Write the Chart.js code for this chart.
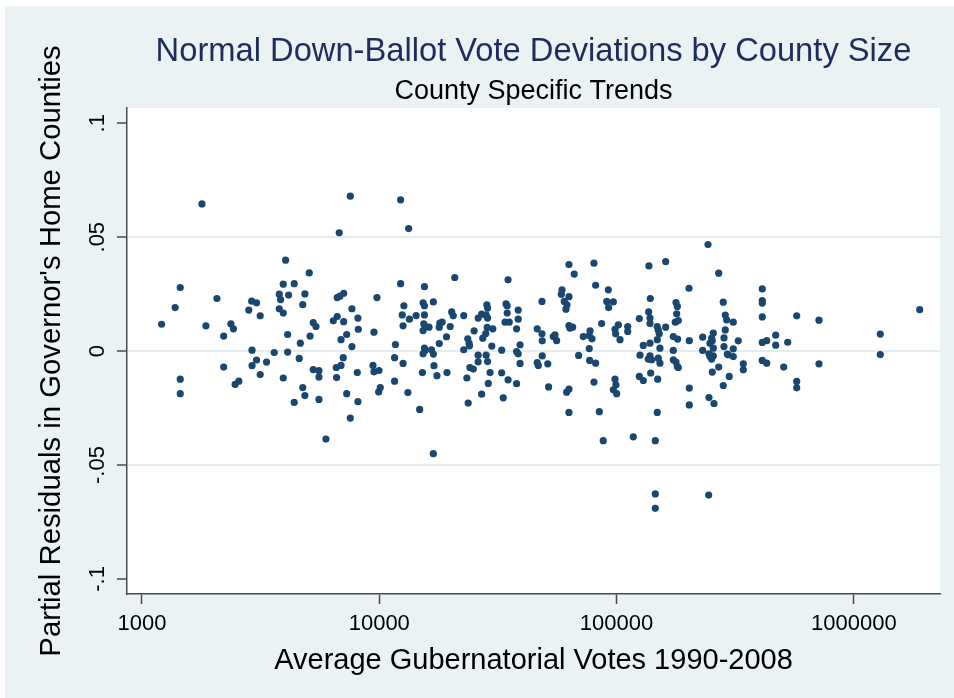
<!DOCTYPE html>
<html>
<head>
<meta charset="utf-8">
<script src="https://cdn.jsdelivr.net/npm/chart.js@4/dist/chart.umd.min.js"></script>
<style>
  html, body { margin: 0; padding: 0; background: #ffffff; }
  #wrap { width: 954px; height: 698px; }
</style>
</head>
<body>
<div id="wrap"><canvas id="myChart" width="954" height="698"></canvas></div>
<script>
// average gubernatorial votes per county (x) and partial residual (y)
const votes = [
  1790, 1450, 2070, 1380, 1210, 1860, 2370, 2430, 2210, 2900,
  3040, 2820, 3150, 2910, 3610, 3040, 3350, 2910, 2210, 3150,
  1450, 2560, 2470, 1450, 7550, 12300, 6780, 13300, 4030, 5070,
  3940, 4380, 3790, 4150, 3840, 4860, 4760, 3790, 3940, 6650,
  6830, 7080, 9780, 7670, 6650, 6400, 7080, 8130, 5270, 5410,
  8160, 7290, 9500, 5110, 4110, 6900, 4650, 7670, 4110, 4600,
  7050, 6590, 6900, 5270, 5570, 5570, 6610, 8080, 3940, 4760,
  4860, 4380, 5570, 7290, 8130, 7550, 5960, 9410, 9500, 9970,
  9940, 10100, 11700, 11600, 12600, 11600, 13200, 14800, 12300, 15500,
  12700, 12500, 13400, 14300, 12600, 15300, 15500, 15500, 15400, 15600,
  15300, 15500, 15600, 15300, 15200, 16200, 16600, 16900, 17000, 17500,
  19300, 16900, 16900, 20800, 18000, 18400, 17900, 19900, 20200, 20500,
  22700, 19200, 17900, 22700, 23600, 23900, 24000, 25100, 26100, 27000,
  28400, 28600, 28200, 28600, 27300, 28100, 28500, 30100, 29800, 26100,
  28200, 26100, 28600, 24100, 24900, 23400, 29300, 28800, 27000, 23700,
  34900, 34200, 34600, 34600, 33900, 35300, 38500, 38500, 37900, 32800,
  39200, 37900, 38500, 39200, 32800, 34900, 37900, 33300, 48500, 46300,
  48500, 48600, 55000, 55900, 54100, 48600, 46300, 46800, 51300, 51700,
  63000, 66300, 58900, 58500, 63000, 60200, 61800, 61200, 63000, 63600,
  65300, 69200, 61600, 63000, 63000, 80300, 81600, 92300, 90900, 96900,
  92600, 86500, 72400, 77300, 78800, 76700, 76700, 77000, 81600, 80300,
  84600, 87900, 98500, 101700, 99100, 103400, 111400, 111400, 98500, 99400,
  96900, 100100, 117600, 136900, 161000, 138700, 136500, 138300, 138300, 124700,
  148400, 149800, 151300, 148400, 161000, 138300, 129600, 152300, 125500, 138300,
  140600, 136000, 149800, 152300, 139200, 124700, 129600, 149000, 148400, 145600,
  178000, 180300, 179200, 176800, 182000, 173400, 180900, 173400, 173400, 178000,
  180300, 182000, 201900, 202500, 202500, 202500, 242800, 269400, 281600, 287100,
  291100, 287100, 230600, 251600, 255600, 253100, 247500, 283500, 255600, 230600,
  283500, 245100, 247500, 255600, 251600, 292800, 269400, 253100, 298400, 281600,
  245100, 257300, 145600, 145600, 244400, 310300, 325700, 310300, 295600, 310300,
  342000, 342000, 411100, 411100, 411100, 411100, 411100, 429100, 468200, 468200,
  526000, 574100, 712700, 411100, 429100, 506100, 712700, 574100, 574100, 1292000,
  1292000, 1894000
];
const residuals = [
  0.0646, 0.0279, 0.0231, 0.0191, 0.0118, 0.0111, 0.0120, 0.0098, 0.0066, 0.0219,
  0.0212, 0.0180, 0.0155, 0.0004, -0.0006, -0.0039, -0.0048, -0.0064, -0.0070, -0.0103,
  -0.0123, -0.0132, -0.0146, -0.0187, 0.0680, 0.0664, 0.0519, 0.0538, 0.0399, 0.0343,
  0.0294, 0.0296, 0.0250, 0.0246, 0.0226, 0.0251, 0.0204, 0.0186, 0.0167, 0.0235,
  0.0241, 0.0254, 0.0235, 0.0186, 0.0152, 0.0133, 0.0129, 0.0145, 0.0125, 0.0108,
  0.0096, 0.0073, 0.0083, 0.0066, 0.0073, 0.0050, 0.0035, 0.0020, -0.0004, -0.0032,
  -0.0029, -0.0072, -0.0063, -0.0081, -0.0086, -0.0114, -0.0116, -0.0094, -0.0118, -0.0160,
  -0.0195, -0.0225, -0.0212, -0.0187, -0.0222, -0.0294, -0.0386, -0.0063, -0.0091, -0.0085,
  -0.0179, -0.0160, 0.0029, -0.0029, -0.0054, -0.0132, -0.0182, -0.0256, 0.0296, 0.0283,
  0.0199, 0.0159, 0.0140, 0.0156, 0.0111, 0.0212, 0.0199, 0.0159, 0.0120, 0.0108,
  0.0090, 0.0013, 0.0003, -0.0012, -0.0094, 0.0105, 0.0006, -0.0013, -0.0064, -0.0108,
  -0.0094, -0.0450, 0.0216, 0.0323, 0.0123, 0.0127, 0.0105, 0.0108, 0.0172, 0.0155,
  0.0156, 0.0063, 0.0033, 0.0006, 0.0054, 0.0035, 0.0023, 0.0089, 0.0145, 0.0162,
  0.0203, 0.0189, 0.0159, 0.0145, 0.0057, 0.0077, 0.0104, 0.0098, 0.0022, -0.0018,
  -0.0018, -0.0047, -0.0046, -0.0072, -0.0079, -0.0118, -0.0094, -0.0142, -0.0189, -0.0228,
  0.0313, 0.0207, 0.0199, 0.0167, 0.0127, 0.0127, 0.0180, 0.0140, 0.0098, 0.0004,
  0.0028, -0.0002, -0.0012, -0.0054, -0.0095, -0.0126, -0.0143, -0.0205, 0.0218, 0.0098,
  0.0076, 0.0045, 0.0071, 0.0046, 0.0064, -0.0021, -0.0050, -0.0063, -0.0056, -0.0157,
  0.0380, 0.0338, 0.0269, 0.0250, 0.0239, 0.0218, 0.0203, 0.0184, 0.0112, 0.0101,
  0.0105, -0.0019, -0.0180, -0.0167, -0.0269, 0.0386, 0.0289, 0.0269, 0.0218, 0.0216,
  0.0191, 0.0121, 0.0064, 0.0089, 0.0054, 0.0068, 0.0011, -0.0041, -0.0053, -0.0136,
  -0.0266, -0.0393, 0.0096, 0.0115, 0.0076, 0.0050, 0.0108, 0.0086, -0.0123, -0.0148,
  -0.0170, -0.0187, -0.0376, 0.0374, 0.0393, 0.0231, 0.0172, 0.0145, 0.0121, 0.0143,
  0.0108, 0.0093, 0.0076, 0.0050, 0.0105, 0.0035, 0.0025, 0.0013, -0.0018, -0.0021,
  -0.0038, -0.0035, -0.0031, -0.0053, -0.0096, -0.0111, -0.0129, -0.0123, -0.0269, -0.0393,
  0.0213, 0.0196, 0.0164, 0.0127, 0.0134, 0.0064, 0.0053, 0.0003, -0.0038, -0.0048,
  -0.0068, -0.0072, 0.0276, 0.0046, -0.0162, -0.0236, 0.0468, 0.0342, 0.0215, 0.0158,
  0.0137, 0.0093, 0.0061, 0.0057, 0.0079, 0.0045, 0.0035, 0.0058, 0.0013, 0.0003,
  0.0020, -0.0012, -0.0024, -0.0021, -0.0035, -0.0013, -0.0070, -0.0092, -0.0111, -0.0151,
  -0.0204, -0.0230, -0.0627, -0.0690, -0.0632, 0.0127, 0.0045, 0.0010, -0.0016, -0.0024,
  -0.0056, -0.0082, 0.0273, 0.0222, 0.0211, 0.0150, 0.0038, 0.0046, 0.0070, 0.0026,
  0.0039, 0.0155, 0.0136, -0.0041, -0.0053, -0.0070, -0.0056, -0.0133, -0.0161, 0.0075,
  -0.0015, 0.0182
];
const xTicks = [1000, 10000, 100000, 1000000];
const yTicks = [-0.1, -0.05, 0, 0.05, 0.1];
const yTickLabels = ["-.1", "-.05", "0", ".05", ".1"];
const titulo = "Normal Down-Ballot Vote Deviations by County Size";
const subtitulo = "County Specific Trends";

const fontFam = "'Liberation Sans', Arial, sans-serif";
Chart.defaults.font.family = fontFam;

let puntos = [];
for (let i = 0; i < votes.length; i++) {
  puntos.push({ x: votes[i], y: residuals[i] });
}

// background colours (stata s2color look)
const fondo = {
  id: "fondo",
  beforeDraw(chart) {
    const ctx = chart.ctx;
    const a = chart.chartArea;
    ctx.save();
    ctx.fillStyle = "#ffffff";
    ctx.fillRect(0, 0, chart.width, chart.height);
    ctx.fillStyle = "#eaf2f3";
    ctx.fillRect(5, 6, chart.width - 5, chart.height - 6);
    ctx.fillStyle = "#ffffff";
    ctx.fillRect(a.left, a.top, a.right - a.left, a.bottom - a.top);
    ctx.restore();
  }
};

// title + subtitle centred on the plot region
const titulos = {
  id: "titulos",
  afterDraw(chart) {
    const ctx = chart.ctx;
    const a = chart.chartArea;
    const cx = (a.left + a.right) / 2;
    ctx.save();
    ctx.textAlign = "center";
    ctx.textBaseline = "alphabetic";
    ctx.fillStyle = "#1e2d5a";
    ctx.font = "32.7px " + fontFam;
    ctx.fillText(titulo, cx, 61);
    ctx.fillStyle = "#000000";
    ctx.font = "27px " + fontFam;
    ctx.fillText(subtitulo, cx, 99);
    ctx.restore();
  }
};

const ctx = document.getElementById("myChart");

new Chart(ctx, {
  type: "scatter",
  data: {
    datasets: [{
      data: puntos,
      backgroundColor: "#1a476f",
      borderWidth: 0,
      pointRadius: 3.6,
      pointHoverRadius: 3.6
    }]
  },
  options: {
    responsive: false,
    animation: false,
    devicePixelRatio: 1,
    events: [],
    layout: { padding: { left: 0, right: 14, top: 108, bottom: 0 } },
    plugins: {
      legend: { display: false },
      tooltip: { enabled: false }
    },
    scales: {
      x: {
        type: "logarithmic",
        position: "bottom",
        min: 865,
        max: 2306000,
        afterBuildTicks: function (s) {
          s.ticks = xTicks.map(function (v) { return { value: v }; });
        },
        afterFit: function (s) { s.height = 104; },
        ticks: {
          autoSkip: false,
          maxRotation: 0,
          padding: 7,
          color: "#000000",
          font: { size: 22 },
          callback: function (v) { return String(v); }
        },
        grid: {
          drawOnChartArea: false,
          drawTicks: true,
          tickLength: 10,
          tickColor: "#4a4a4a",
          tickWidth: 1.5
        },
        border: { display: true, color: "#4a4a4a", width: 1.5 },
        title: {
          display: true,
          text: "Average Gubernatorial Votes 1990-2008",
          color: "#000000",
          font: { size: 29 },
          padding: { top: 0, bottom: 20 }
        }
      },
      y: {
        min: -0.1066,
        max: 0.1067,
        afterBuildTicks: function (s) {
          s.ticks = yTicks.map(function (v) { return { value: v }; });
        },
        afterFit: function (s) { s.width = 127; },
        ticks: {
          autoSkip: false,
          minRotation: 90,
          maxRotation: 90,
          crossAlign: "center",
          padding: 0,
          color: "#000000",
          font: { size: 22 },
          callback: function (v) { return yTickLabels[yTicks.indexOf(v)]; }
        },
        grid: {
          color: function (c) {
            return (c.tick && Math.abs(c.tick.value) < 0.09) ? "#e3edef" : "rgba(0,0,0,0)";
          },
          lineWidth: 2,
          drawTicks: true,
          tickLength: 10,
          tickColor: "#4a4a4a",
          tickWidth: 1.5
        },
        border: { display: true, color: "#4a4a4a", width: 1.5 },
        title: {
          display: true,
          text: "Partial Residuals in Governor's Home Counties",
          color: "#000000",
          font: { size: 29.3 },
          padding: { top: 34, bottom: 0 }
        }
      }
    }
  },
  plugins: [fondo, titulos]
});
</script>
</body>
</html>
